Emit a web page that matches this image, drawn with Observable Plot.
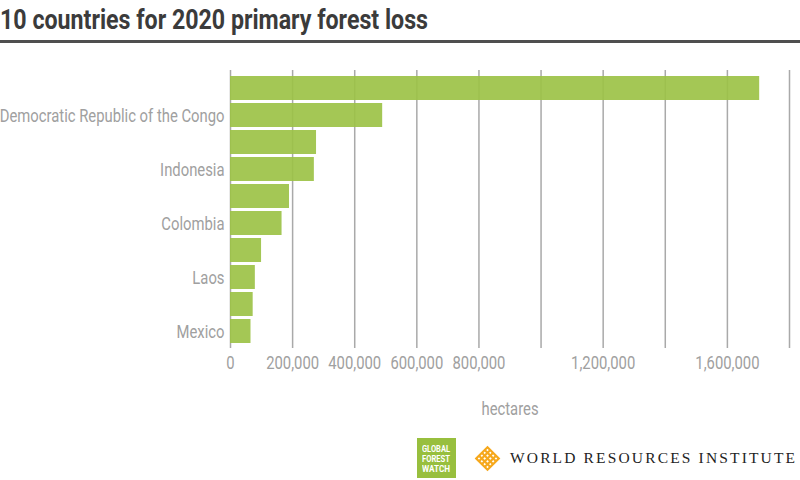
<!DOCTYPE html>
<html>
<head>
<meta charset="utf-8">
<script src="https://cdn.jsdelivr.net/npm/d3@7"></script>
<script src="https://cdn.jsdelivr.net/npm/@observablehq/plot@0.6"></script>
<style>
  html, body { margin: 0; padding: 0; background: #fff; }
  #page { position: relative; width: 800px; height: 480px; overflow: hidden; font-family: Roboto, sans-serif; }
  #title { position: absolute; left: 0px; top: 4px; font-size: 27px; font-weight: bold; color: #3b3b3b; white-space: nowrap; transform-origin: 0 0; line-height: 32px; }
  #rule { position: absolute; left: 0; top: 40px; width: 800px; height: 3px; background: #4f4f4f; }
  #chart { position: absolute; left: 0; top: 46px; }
  #gfw { position: absolute; left: 417px; top: 438px; width: 39px; height: 40px; background: #98bf3e; }
  #gfw div { position: absolute; left: 5px; color: #fff; font-weight: bold; font-size: 9.5px; line-height: 9.5px; white-space: nowrap; transform-origin: 0 0; }
  #wri-icon { position: absolute; left: 474px; top: 445px; }
  #wri { position: absolute; left: 510px; top: 449px; font-family: "Liberation Serif", "DejaVu Serif", serif; font-size: 15.5px; color: #222; white-space: nowrap; line-height: 18px; }
</style>
</head>
<body>
<div id="page">
  <div id="title">10 countries for 2020 primary forest loss</div>
  <div id="rule"></div>
  <div id="chart"></div>
  <div id="gfw"><div style="top:6px">GLOBAL</div><div style="top:15.5px">FOREST</div><div style="top:25.5px">WATCH</div></div>
  <svg id="wri-icon" width="27" height="27" viewBox="0 0 27 27">
    <g transform="translate(13.5,13.5) rotate(45)" fill="none" stroke="#f6a81c" stroke-width="2.2">
      <rect x="-8" y="-8" width="16" height="16"/>
      <line x1="-4" y1="-8" x2="-4" y2="8"/>
      <line x1="0" y1="-8" x2="0" y2="8"/>
      <line x1="4" y1="-8" x2="4" y2="8"/>
      <line x1="-8" y1="-4" x2="8" y2="-4"/>
      <line x1="-8" y1="0" x2="8" y2="0"/>
      <line x1="-8" y1="4" x2="8" y2="4"/>
    </g>
  </svg>
  <div id="wri">WORLD RESOURCES INSTITUTE</div>
</div>
<script>
const countries = ["Brazil", "Democratic Republic of the Congo", "Bolivia", "Indonesia", "Peru", "Colombia", "Cameroon", "Laos", "Malaysia", "Mexico"];
const lossHa = [1704000, 490000, 277000, 270000, 190000, 166000, 100000, 80000, 73000, 66000];
const gridTicks = [0, 200000, 400000, 600000, 800000, 1000000, 1200000, 1400000, 1600000, 1800000];
const xTickLabels = [0, 200000, 400000, 600000, 800000, 1200000, 1600000];
const yTickLabels = ["Democratic Republic of the Congo", "Indonesia", "Colombia", "Laos", "Mexico"];
const xAxisLabel = "hectares";

const data = countries.map((c, i) => ({country: c, loss: lossHa[i]}));

const chart = Plot.plot({
  width: 800,
  height: 380,
  marginTop: 24,
  marginBottom: 78,
  marginLeft: 230,
  marginRight: 11,
  style: {fontFamily: "Roboto, sans-serif", background: "transparent"},
  x: {domain: [0, 1800000], axis: null},
  y: {domain: countries, paddingInner: 0.12, paddingOuter: 0.08, axis: null},
  marks: [
    Plot.gridX(gridTicks, {stroke: "#a9a9a9", strokeOpacity: 1, strokeWidth: 1.5}),
    Plot.barX(data, {x: "loss", y: "country", fill: "#9cc247", fillOpacity: 0.92}),
    Plot.axisX(xTickLabels, {tickSize: 0, tickPadding: 7, fontSize: 19, fill: "#a0a0a0", tickFormat: d3.format(","), label: null}),
    Plot.axisY(yTickLabels, {tickSize: 0, tickPadding: 6, fontSize: 19, fill: "#a0a0a0", label: null}),
    Plot.text([xAxisLabel], {frameAnchor: "bottom", lineAnchor: "middle", dy: 60, fontSize: 19, fill: "#a0a0a0"})
  ]
});
document.getElementById("chart").appendChild(chart);

// condense Roboto glyphs to mimic the condensed face of the original
chart.querySelectorAll("text").forEach(t => {
  const w = t.getComputedTextLength();
  if (w > 0) {
    t.setAttribute("textLength", (w * 0.78).toFixed(2));
    t.setAttribute("lengthAdjust", "spacingAndGlyphs");
  }
});
const title = document.getElementById("title");
const tw = title.getBoundingClientRect().width;
title.style.transform = `scaleX(${428 / tw})`;
document.querySelectorAll("#gfw div").forEach(d => {
  const w = d.getBoundingClientRect().width;
  d.style.transform = `scaleX(${28 / w})`;
});
const wri = document.getElementById("wri");
const ww = wri.getBoundingClientRect().width;
const chars = wri.textContent.length;
wri.style.letterSpacing = `${(285 - ww) / (chars - 1)}px`;
</script>
</body>
</html>
